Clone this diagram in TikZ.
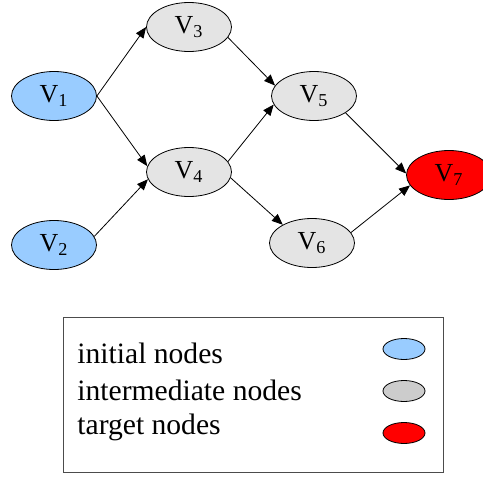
\documentclass[tikz,border=0pt]{standalone}
\usepackage{fontspec}
\setmainfont{Liberation Serif}
\usepackage{tikz}
\usetikzlibrary{shapes.geometric, arrows.meta}
\definecolor{initblue}{HTML}{99CCFF}
\definecolor{midgray}{HTML}{E4E4E4}
\definecolor{keygray}{HTML}{CCCCCC}
\tikzset{vnode/.style={draw, ellipse, thin, inner sep=0pt, minimum width=42.5pt, minimum height=24.5pt, font=\fontsize{13}{15}\selectfont}}
\tikzset{initnode/.style={vnode, fill=initblue}}
\tikzset{midnode/.style={vnode, fill=midgray}}
\tikzset{goalnode/.style={vnode, fill=red}}
\tikzset{keynode/.style={draw, ellipse, thin, inner sep=0pt, minimum width=21pt, minimum height=10.5pt}}
\tikzset{flow/.style={-{Triangle[length=5.5pt,width=4.5pt]}, thin}}

\begin{document}
\begin{tikzpicture}[x=0.5pt, y=-0.5pt]
    \useasboundingbox (0,0) rectangle (483,477);

    \node[initnode] (V1) at (54, 96)   {V\textsubscript{1}};
    \node[initnode] (V2) at (54, 245)  {V\textsubscript{2}};
    \node[midnode]  (V3) at (189, 27)  {V\textsubscript{3}};
    \node[midnode]  (V4) at (189, 172) {V\textsubscript{4}};
    \node[midnode]  (V5) at (314, 96)  {V\textsubscript{5}};
    \node[midnode]  (V6) at (312, 243) {V\textsubscript{6}};
    \node[goalnode] (V7) at (449, 175) {V\textsubscript{7}};

    \draw[flow] (V1.east) -- (V3.west);
    \draw[flow] (V1.east) -- (V4.172);
    \draw[flow] (V2.12) -- (V4.190);
    \draw[flow] (V3.-15) -- (V5.165);
    \draw[flow] (V4.15) -- (V5.192);
    \draw[flow] (V4.-8) -- (V6.148);
    \draw[flow] (V5.-28) -- (V7.178);
    \draw[flow] (V6.15) -- (V7.195);

    % legend
    \node[draw=black!70, thin, minimum width=190pt, minimum height=77.5pt, inner sep=0pt] (key) at (253, 394.5) {};
    \node[anchor=west, inner sep=0pt, font=\fontsize{14.8}{17}\selectfont] (tinit) at (77, 353) {initial nodes};
    \node[anchor=west, inner sep=0pt, font=\fontsize{14.8}{17}\selectfont] (tmid)  at (77, 390) {intermediate nodes};
    \node[anchor=west, inner sep=0pt, font=\fontsize{14.8}{17}\selectfont] (tgoal) at (77, 427) {target nodes};
    \node[keynode, fill=initblue] (kinit) at (404, 349) {};
    \node[keynode, fill=keygray]  (kmid)  at (404, 391) {};
    \node[keynode, fill=red]      (kgoal) at (404, 433) {};
\end{tikzpicture}
\end{document}
